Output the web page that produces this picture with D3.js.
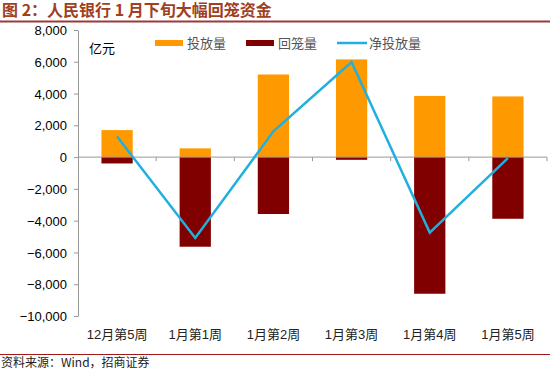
<!DOCTYPE html>
<html lang="zh">
<head>
  <meta charset="utf-8">
  <title>人民银行1月下旬大幅回笼资金</title>
  <script src="https://d3js.org/d3.v7.min.js"></script>
  <style>
    html, body { margin: 0; padding: 0; background: #fff; overflow: hidden; }
    svg { display: block; }
  </style>
</head>
<body>
<script>
  // data (亿元)
  const weeks = ["12月第5周", "1月第1周", "1月第2周", "1月第3周", "1月第4周", "1月第5周"];
  const injection = [1700, 550, 5200, 6150, 3850, 3820];     // 投放量
  const withdrawal = [-400, -5640, -3580, -170, -8600, -3880]; // 回笼量
  const netInjection = [1300, -5090, 1620, 5980, -4750, -60]; // 净投放量
  const yTicks = [8000, 6000, 4000, 2000, 0, -2000, -4000, -6000, -8000, -10000];

  const width = 550, height = 373;
  const margin = { top: 30, bottom: 57, left: 78, right: 3 };
  const innerWidth = width - margin.left - margin.right;
  const innerHeight = height - margin.top - margin.bottom;
  const cjk = "'Noto Sans CJK SC', sans-serif";

  const svg = d3.select("body").append("svg")
    .attr("width", width).attr("height", height);

  // title + rules
  svg.append("text")
    .text("图 2：人民银行 1 月下旬大幅回笼资金")
    .attr("x", 2).attr("y", 16)
    .style("font-family", cjk)
    .style("font-weight", "bold")
    .style("font-size", "16px")
    .style("fill", "#a0401e");
  svg.append("line")
    .attr("x1", 0).attr("x2", width).attr("y1", 21.5).attr("y2", 21.5)
    .style("stroke", "#9b3a3a").style("stroke-width", 2);
  svg.append("line")
    .attr("x1", 0).attr("x2", width).attr("y1", 354.5).attr("y2", 354.5)
    .style("stroke", "#a01818").style("stroke-width", 1);
  svg.append("text")
    .text("资料来源：Wind，招商证券")
    .attr("x", 1).attr("y", 367)
    .style("font-family", cjk)
    .style("font-size", "12px")
    .style("fill", "#222");

  const g = svg.append("g").attr("transform", `translate(${margin.left},${margin.top})`);

  const x = d3.scaleBand().domain(weeks).range([0, innerWidth]).paddingInner(0.6).paddingOuter(0.3);
  const xStep = d3.scaleBand().domain(weeks).range([0, innerWidth]);
  const y = d3.scaleLinear().domain([-10000, 8000]).range([innerHeight, 0]);

  // y axis
  const yAxis = g.append("g").attr("id", "yAxis")
    .call(d3.axisLeft(y).tickValues(yTicks).tickSize(4).tickSizeOuter(0).tickPadding(7).tickFormat(d3.format(",")));
  yAxis.selectAll("path, line").style("stroke", "#999");
  yAxis.selectAll("text").attr("dy", "0.35em")
    .style("font-family", "'Liberation Sans', Arial, sans-serif")
    .style("font-size", "13px").style("fill", "#000");

  // bars
  g.selectAll("rect.inj").data(weeks).join("rect").attr("class", "inj")
    .attr("x", d => x(d)).attr("width", x.bandwidth())
    .attr("y", (d, i) => y(injection[i]))
    .attr("height", (d, i) => y(0) - y(injection[i]))
    .style("fill", "#ff9900");
  g.selectAll("rect.wd").data(weeks).join("rect").attr("class", "wd")
    .attr("x", d => x(d)).attr("width", x.bandwidth())
    .attr("y", y(0))
    .attr("height", (d, i) => y(withdrawal[i]) - y(0))
    .style("fill", "#800000");

  // zero axis with ticks between categories
  const xAxisG = g.append("g").attr("transform", `translate(0,${y(0)})`);
  xAxisG.append("line").attr("x1", 0).attr("x2", innerWidth)
    .style("stroke", "#999");
  xAxisG.selectAll("line.tk").data(weeks).join("line").attr("class", "tk")
    .attr("x1", d => xStep(d) + xStep.bandwidth()).attr("x2", d => xStep(d) + xStep.bandwidth())
    .attr("y1", 0).attr("y2", 4).style("stroke", "#999");

  // category labels at bottom
  g.append("g").attr("id", "xAxis")
    .selectAll("text").data(weeks).join("text")
    .text(d => d)
    .attr("x", d => xStep(d) + xStep.bandwidth() / 2)
    .attr("y", innerHeight + 23)
    .attr("text-anchor", "middle")
    .style("font-family", "'Liberation Sans', " + cjk)
    .style("font-size", "13px").style("fill", "#222");

  // net line
  const line = d3.line()
    .x((d, i) => xStep(weeks[i]) + xStep.bandwidth() / 2)
    .y(d => y(d));
  g.append("path").datum(netInjection)
    .attr("d", line)
    .style("fill", "none").style("stroke", "#1fb0e0").style("stroke-width", 2.5);

  // unit
  g.append("text").text("亿元")
    .attr("x", 11).attr("y", 23)
    .style("font-family", cjk)
    .style("font-size", "13px").style("fill", "#000");

  // legend
  const legendItems = [
    { name: "投放量", color: "#ff9900", type: "rect", x: 77 },
    { name: "回笼量", color: "#800000", type: "rect", x: 168 },
    { name: "净投放量", color: "#1fb0e0", type: "line", x: 259 }
  ];
  const legend = g.append("g");
  legendItems.forEach(it => {
    if (it.type === "rect") {
      legend.append("rect").attr("x", it.x).attr("y", 10).attr("width", 28).attr("height", 6).style("fill", it.color);
    } else {
      legend.append("line").attr("x1", it.x).attr("x2", it.x + 30).attr("y1", 13).attr("y2", 13)
        .style("stroke", it.color).style("stroke-width", 2.5);
    }
    legend.append("text").text(it.name).attr("x", it.x + 32).attr("y", 18)
      .style("font-family", cjk).style("font-size", "13px").style("fill", "#555");
  });
</script>
</body>
</html>
